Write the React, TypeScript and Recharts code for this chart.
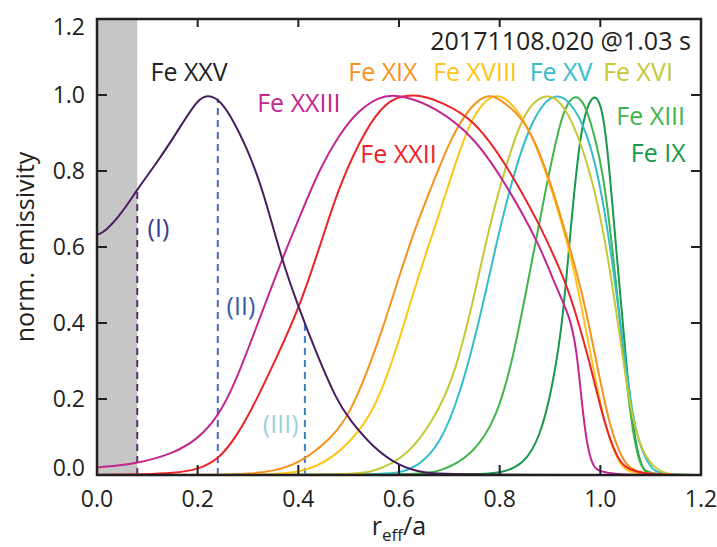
import React from "react";
import {
  LineChart,
  Line,
  XAxis,
  YAxis,
  ReferenceArea,
  ReferenceDot,
  Label,
} from "recharts";

// [r_eff/a, normalised emissivity]
const feXXV: [number, number][] = [
  [0, 0.632], [0.016, 0.64], [0.05, 0.69], [0.079, 0.75], [0.118, 0.82],
  [0.158, 0.9], [0.2, 0.99], [0.22, 1.0], [0.241, 0.99], [0.264, 0.95],
  [0.297, 0.864], [0.33, 0.75], [0.367, 0.566], [0.4, 0.443], [0.436, 0.32],
  [0.476, 0.197], [0.502, 0.145], [0.55, 0.07], [0.602, 0.022], [0.65, 0.005],
  [0.7, 0], [1.2, 0],
];
const feXXIII: [number, number][] = [
  [0, 0.02], [0.079, 0.029], [0.152, 0.057], [0.198, 0.092], [0.241, 0.153],
  [0.277, 0.25], [0.317, 0.39], [0.367, 0.566], [0.403, 0.68], [0.44, 0.8],
  [0.483, 0.9], [0.52, 0.96], [0.56, 0.995], [0.589, 1.0], [0.62, 0.993],
  [0.668, 0.97], [0.747, 0.895], [0.814, 0.763], [0.88, 0.605], [0.913, 0.49],
  [0.939, 0.42], [0.953, 0.33], [0.963, 0.193], [0.973, 0.079], [0.986, 0.018],
  [1.0, 0.009], [1.03, 0.003], [1.06, 0], [1.2, 0],
];
const feXXII: [number, number][] = [
  [0, 0], [0.1, 0.002], [0.15, 0.005], [0.198, 0.013], [0.241, 0.04],
  [0.277, 0.1], [0.317, 0.197], [0.357, 0.31], [0.403, 0.443], [0.449, 0.627],
  [0.483, 0.768], [0.536, 0.917], [0.575, 0.98], [0.602, 0.996], [0.628, 1.0],
  [0.655, 0.995], [0.681, 0.982], [0.747, 0.94], [0.814, 0.816], [0.88, 0.658],
  [0.913, 0.561], [0.939, 0.482], [0.979, 0.298], [1.005, 0.149], [1.032, 0.044],
  [1.06, 0], [1.2, 0],
];
const feXIX: [number, number][] = [
  [0, 0], [0.25, 0], [0.3, 0.003], [0.35, 0.01], [0.403, 0.03], [0.469, 0.1],
  [0.502, 0.162], [0.536, 0.268], [0.569, 0.39], [0.602, 0.53], [0.635, 0.66],
  [0.668, 0.77], [0.701, 0.88], [0.734, 0.955], [0.76, 0.99], [0.78, 1.0],
  [0.8, 0.99], [0.847, 0.94], [0.88, 0.85], [0.913, 0.72], [0.939, 0.6],
  [0.966, 0.47], [0.992, 0.298], [1.019, 0.123], [1.045, 0.035], [1.07, 0],
  [1.2, 0],
];
const feXVIII: [number, number][] = [
  [0, 0], [0.3, 0], [0.35, 0.002], [0.403, 0.006], [0.469, 0.04],
  [0.536, 0.136], [0.569, 0.232], [0.602, 0.36], [0.635, 0.51], [0.681, 0.69],
  [0.714, 0.83], [0.747, 0.947], [0.775, 0.99], [0.794, 1.0], [0.815, 0.99],
  [0.847, 0.94], [0.88, 0.845], [0.913, 0.71], [0.939, 0.59], [0.962, 0.45],
  [0.986, 0.28], [1.012, 0.11], [1.039, 0.025], [1.06, 0], [1.2, 0],
];
const feXVI: [number, number][] = [
  [0, 0], [0.5, 0], [0.55, 0.008], [0.602, 0.04], [0.64, 0.09], [0.681, 0.175],
  [0.714, 0.28], [0.747, 0.456], [0.78, 0.658], [0.814, 0.824], [0.847, 0.947],
  [0.87, 0.985], [0.893, 1.0], [0.915, 0.99], [0.939, 0.947], [0.973, 0.833],
  [1.005, 0.658], [1.032, 0.43], [1.052, 0.237], [1.072, 0.097], [1.098, 0.026],
  [1.13, 0.003], [1.15, 0], [1.2, 0],
];
const feXV: [number, number][] = [
  [0, 0], [0.55, 0], [0.602, 0.005], [0.64, 0.025], [0.681, 0.079],
  [0.721, 0.21], [0.761, 0.412], [0.794, 0.614], [0.827, 0.79], [0.86, 0.92],
  [0.89, 0.985], [0.913, 1.0], [0.936, 0.99], [0.973, 0.912], [1.005, 0.737],
  [1.032, 0.482], [1.055, 0.237], [1.072, 0.097], [1.098, 0.018], [1.12, 0],
  [1.2, 0],
];
const feXIII: [number, number][] = [
  [0, 0], [0.62, 0], [0.681, 0.006], [0.747, 0.053], [0.794, 0.149],
  [0.827, 0.307], [0.86, 0.535], [0.893, 0.763], [0.92, 0.93], [0.935, 0.98],
  [0.95, 1.0], [0.965, 0.985], [0.979, 0.94], [1.005, 0.807], [1.025, 0.588],
  [1.045, 0.325], [1.062, 0.132], [1.078, 0.018], [1.1, 0], [1.2, 0],
];
const feIX: [number, number][] = [
  [0, 0], [0.75, 0], [0.8, 0.004], [0.847, 0.026], [0.88, 0.097],
  [0.906, 0.237], [0.926, 0.412], [0.939, 0.62], [0.959, 0.895], [0.976, 0.98],
  [0.989, 1.0], [1.0, 0.98], [1.012, 0.9], [1.032, 0.588], [1.052, 0.28],
  [1.069, 0.079], [1.085, 0.009], [1.1, 0], [1.2, 0],
];

// dashed markers (I), (II), (III): [x, top]
const markerI: [number, number] = [0.08, 0.75];
const markerII: [number, number] = [0.24, 0.99];
const markerIII: [number, number] = [0.413, 0.4];

const excluded: [number, number] = [0, 0.08];
const xTicks = [0, 0.2, 0.4, 0.6, 0.8, 1.0, 1.2];
const yTicks = [0, 0.2, 0.4, 0.6, 0.8, 1.0, 1.2];
const X_MAX = 1.2;
const Y_MAX = 1.2;

const toPts = (arr: [number, number][]) => arr.map(([x, y]) => ({ x, y }));
const vline = ([x, top]: [number, number]) => [
  { x, y: 0 },
  { x, y: top },
];

const series = [
  { name: "Fe IX", data: feIX, color: "#17984a" },
  { name: "Fe XIII", data: feXIII, color: "#40b54b" },
  { name: "Fe XV", data: feXV, color: "#35bdc7" },
  { name: "Fe XVI", data: feXVI, color: "#c4c837" },
  { name: "Fe XVIII", data: feXVIII, color: "#fec417" },
  { name: "Fe XIX", data: feXIX, color: "#f6921e" },
  { name: "Fe XXII", data: feXXII, color: "#ed2227" },
  { name: "Fe XXIII", data: feXXIII, color: "#c2278f" },
  { name: "Fe XXV", data: feXXV, color: "#481d5c" },
];

const tags = [
  { text: "Fe XXV", x: 0.183, y: 1.059, color: "#231f20" },
  { text: "Fe XXIII", x: 0.401, y: 0.979, color: "#c2278f" },
  { text: "Fe XXII", x: 0.599, y: 0.845, color: "#ed2227" },
  { text: "Fe XIX", x: 0.568, y: 1.061, color: "#f6921e" },
  { text: "Fe XVIII", x: 0.751, y: 1.061, color: "#fec417" },
  { text: "Fe XV", x: 0.922, y: 1.061, color: "#35bdc7" },
  { text: "Fe XVI", x: 1.075, y: 1.061, color: "#c4c837" },
  { text: "Fe XIII", x: 1.1, y: 0.945, color: "#40b54b" },
  { text: "Fe IX", x: 1.115, y: 0.847, color: "#17984a" },
  { text: "20171108.020 @1.03 s", x: 0.921, y: 1.142, color: "#231f20" },
  { text: "(I)", x: 0.122, y: 0.65, color: "#3a3b8e" },
  { text: "(II)", x: 0.286, y: 0.445, color: "#3b5aa6" },
  { text: "(III)", x: 0.365, y: 0.134, color: "#9fd1dd" },
];

const FONT = "'Open Sans', 'Noto Sans', sans-serif";
const INK = "#231f20";

// plot box (px) — matches the chart margins / axis sizes below
const BOX = { left: 97, top: 19, right: 701, bottom: 475 };

const xLabel = (props: any) => {
  const vb = props.viewBox;
  const cx = vb.x + vb.width / 2;
  return (
    <text x={cx} y={535} textAnchor="middle" fill={INK} fontSize={25} fontFamily={FONT}>
      r<tspan fontSize={17} dy={6}>eff</tspan>
      <tspan dy={-6}>/a</tspan>
    </text>
  );
};

const yLabel = (props: any) => {
  const vb = props.viewBox;
  const cy = vb.y + vb.height / 2;
  return (
    <text
      x={34}
      y={cy}
      transform={`rotate(-90, 34, ${cy})`}
      textAnchor="middle"
      fill={INK}
      fontSize={25}
      fontFamily={FONT}
    >
      norm. emissivity
    </text>
  );
};

// end labels of the y axis sit slightly inside the frame, as in the figure
const yTick = (props: any) => {
  const { x, y, payload } = props;
  const v = payload.value as number;
  const shift = v >= 1.2 ? 8 : v <= 0 ? -7 : 0;
  return (
    <text x={x} y={y + shift} dy="0.355em" textAnchor="end" fill={INK} fontSize={23} fontFamily={FONT}>
      {v.toFixed(1)}
    </text>
  );
};

export default function App() {
  const tickStyle = { fill: INK, fontSize: 23, fontFamily: FONT };
  const dashed = { strokeWidth: 2, strokeDasharray: "7 5", dot: false, isAnimationActive: false };
  return (
    <div style={{ position: "absolute", left: 0, top: 0, width: 717, height: 547, background: "#fff" }}>
      <LineChart width={717} height={547} margin={{ top: BOX.top - 1, right: 717 - BOX.right - 1, bottom: 0, left: 0 }}>
        <XAxis
          xAxisId="bottom"
          type="number"
          dataKey="x"
          domain={[0, X_MAX]}
          ticks={xTicks}
          tickFormatter={(v: number) => v.toFixed(1)}
          height={547 - BOX.bottom}
          tickSize={-10}
          tickMargin={26}
          tick={tickStyle}
          stroke={INK}
          strokeWidth={2}
          allowDataOverflow
        >
          <Label content={xLabel} />
        </XAxis>
        <XAxis
          xAxisId="top"
          orientation="top"
          type="number"
          dataKey="x"
          domain={[0, X_MAX]}
          ticks={xTicks}
          height={1}
          tickSize={-8}
          tickFormatter={() => ""}
          stroke={INK}
          strokeWidth={2}
          allowDataOverflow
        />
        <YAxis
          yAxisId="left"
          type="number"
          domain={[0, Y_MAX]}
          ticks={yTicks}
          width={BOX.left}
          tickSize={-10}
          tickMargin={22}
          tick={yTick}
          stroke={INK}
          strokeWidth={2}
          allowDataOverflow
        >
          <Label content={yLabel} />
        </YAxis>
        <YAxis
          yAxisId="right"
          orientation="right"
          type="number"
          domain={[0, Y_MAX]}
          ticks={yTicks}
          width={1}
          tickSize={-10}
          tickFormatter={() => ""}
          stroke={INK}
          strokeWidth={2}
          allowDataOverflow
        />

        <ReferenceArea
          xAxisId="bottom"
          yAxisId="left"
          x1={excluded[0]}
          x2={excluded[1]}
          y1={0}
          y2={Y_MAX}
          fill="#c6c6c6"
          fillOpacity={1}
          stroke="none"
        />

        <Line xAxisId="bottom" yAxisId="left" data={vline(markerI)} dataKey="y" stroke="#5b2b6b" {...dashed} />
        <Line xAxisId="bottom" yAxisId="left" data={vline(markerII)} dataKey="y" stroke="#4a68b4" {...dashed} />
        {/* same domains: drawing this one against the mirrored axes keeps them active */}
        <Line xAxisId="top" yAxisId="right" data={vline(markerIII)} dataKey="y" stroke="#3c7fcf" {...dashed} />

        {series.map((s) => (
          <Line
            key={s.name}
            xAxisId="bottom"
            yAxisId="left"
            data={toPts(s.data)}
            dataKey="y"
            type="basis"
            stroke={s.color}
            strokeWidth={2}
            dot={false}
            isAnimationActive={false}
          />
        ))}

        {tags.map((t) => (
          <ReferenceDot
            key={t.text}
            xAxisId="bottom"
            yAxisId="left"
            x={t.x}
            y={t.y}
            r={0}
            fill="none"
            stroke="none"
            label={{
              value: t.text,
              position: "center",
              fill: t.color,
              fontSize: 25,
              fontFamily: FONT,
            }}
          />
        ))}
      </LineChart>
      {/* plot frame drawn on top so it stays black over the shaded band */}
      <svg
        width={717}
        height={547}
        style={{ position: "absolute", left: 0, top: 0, pointerEvents: "none" }}
      >
        <rect
          x={BOX.left}
          y={BOX.top}
          width={BOX.right - BOX.left}
          height={BOX.bottom - BOX.top}
          fill="none"
          stroke={INK}
          strokeWidth={2.5}
        />
      </svg>
    </div>
  );
}
